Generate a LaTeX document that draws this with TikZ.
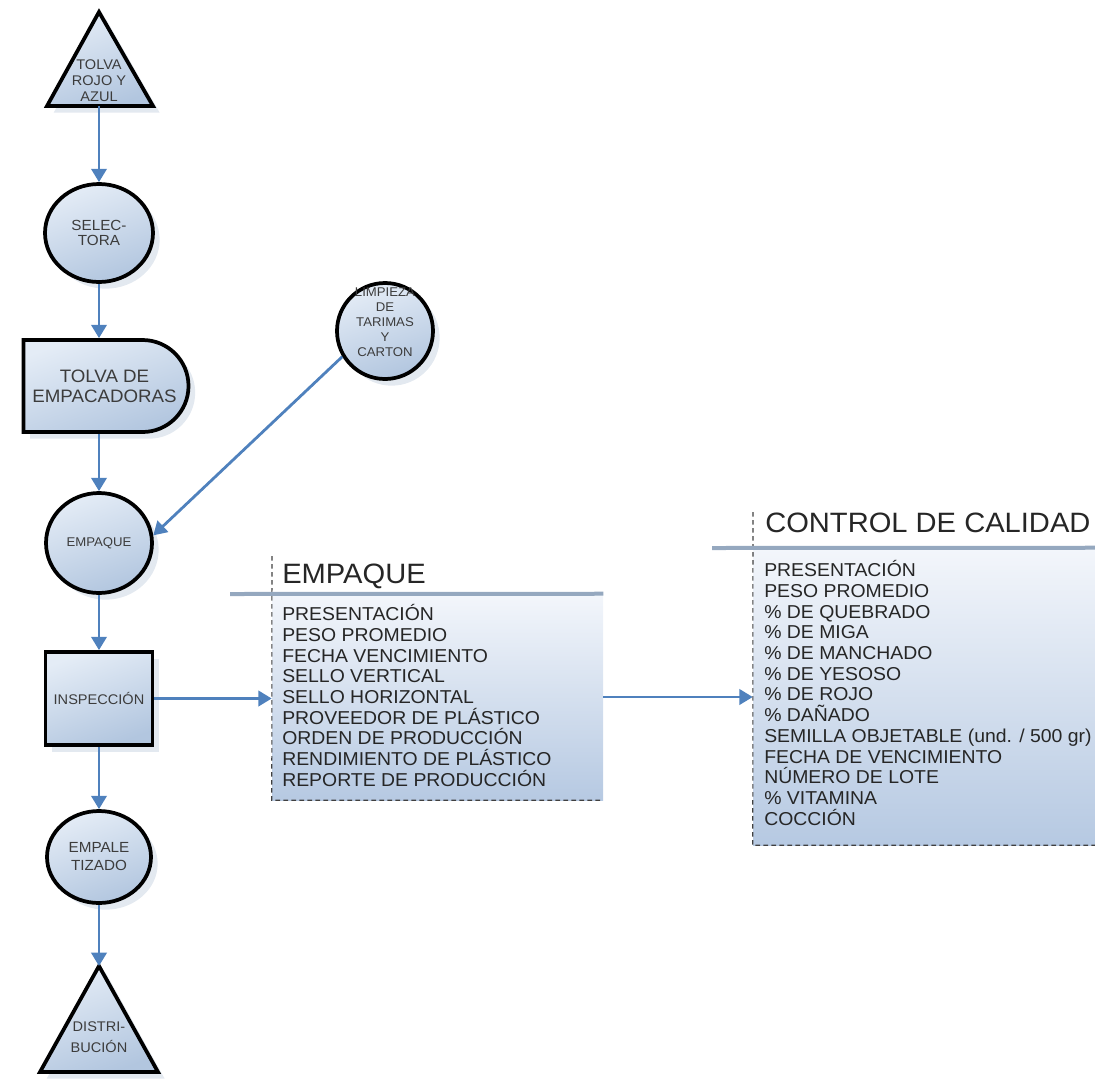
\documentclass[tikz,border=0pt]{standalone}
\usepackage{fontspec}
\setmainfont{Liberation Sans}
\newfontfamily\lsans[FakeStretch=1.04]{Liberation Sans}
\usetikzlibrary{shapes.geometric,shapes.misc,arrows.meta,shadows}
\definecolor{arrowblue}{HTML}{4F81BD}
\definecolor{shapetop}{HTML}{E4ECF6}
\definecolor{shapebot}{HTML}{B2C6DF}
\definecolor{shadowc}{HTML}{DCE3EC}
\definecolor{labelc}{HTML}{3C3C3C}
\definecolor{listc}{HTML}{262626}
\definecolor{headline}{HTML}{95A8BF}
\definecolor{boxtop}{HTML}{F3F6FB}
\definecolor{boxbot}{HTML}{B6C9E2}
\begin{document}
\begin{tikzpicture}[x=0.75pt,y=-0.75pt,
  shp/.style={draw=black, line width=2.8pt, top color=shapetop, bottom color=shapebot,
    shading angle=20, inner sep=0pt, text=labelc, align=center,
    drop shadow={shadow xshift=5pt, shadow yshift=-5pt, fill=shadowc, opacity=0.8, draw=none}},
  lbl/.style={text=labelc, align=center, inner sep=0pt},
  flow/.style={draw=arrowblue, line width=2.1pt, -{Triangle[width=11.5pt,length=10pt]}},
  infobox/.style={draw=none, rectangle, top color=boxtop, bottom color=boxbot, inner sep=0pt},
  dashl/.style={draw=black!75, line width=0.8pt, dash pattern=on 3.5pt off 2.5pt},
  hline/.style={draw=headline, line width=3pt},
  hdr/.style={text=listc, inner sep=0pt, font=\lsans\fontsize{21}{24}\selectfont},
  item/.style={text=listc, inner sep=0pt, font=\lsans\fontsize{14}{15.5}\selectfont}
]
\useasboundingbox (0,0) rectangle (1095,1078);

% --- triangle TOLVA ROJO Y AZUL
\path[shp] (99,12) -- (153,106) -- (47,106) -- cycle;
\node[lbl, font=\lsans\fontsize{10.5}{12}\selectfont] (tolva1) at (99,81) {TOLVA\\ROJO Y\\AZUL};
\coordinate (t1b) at (99,106);

% --- SELECTORA
\node[shp, ellipse, minimum width=81pt, minimum height=73.5pt,
  font=\lsans\fontsize{11}{11.5}\selectfont] (sel) at (99,233) {SELEC-\\TORA};

% --- TOLVA DE EMPACADORAS (delay)
\node[shp, rounded rectangle, rounded rectangle west arc=none,
  minimum width=123.75pt, minimum height=69pt,
  font=\lsans\fontsize{13.5}{15}\selectfont] (tolva2) at (104.5,386) {TOLVA DE\\EMPACADORAS};

% --- EMPAQUE circle
\node[shp, ellipse, minimum width=79.5pt, minimum height=75pt,
  font=\lsans\fontsize{9.5}{11}\selectfont] (emp) at (99,543) {EMPAQUE};

% --- LIMPIEZA circle
\node[shp, ellipse, minimum width=72pt, minimum height=72pt] (lim) at (385,331) {};
\node[lbl, font=\lsans\fontsize{9.5}{11.2}\selectfont] (limt) at (385,322) {LIMPIEZA\\DE\\TARIMAS\\Y\\CARTON};

% --- INSPECCION
\node[shp, rectangle, minimum width=80.25pt, minimum height=69.75pt,
  font=\lsans\fontsize{10.5}{12}\selectfont] (insp) at (99,698.5) {INSPECCIÓN};

% --- EMPALETIZADO
\node[shp, ellipse, minimum width=78pt, minimum height=69pt,
  font=\lsans\fontsize{11}{13.5}\selectfont] (empal) at (99,857) {EMPALE\\TIZADO};

% --- triangle DISTRIBUCION
\path[shp] (99,966) -- (158,1072) -- (40,1072) -- cycle;
\node[lbl, font=\lsans\fontsize{10.5}{16}\selectfont] (dist) at (99,1037) {DISTRI-\\BUCIÓN};
\coordinate (t2a) at (99,966);

% --- EMPAQUE info box
\node[infobox, minimum width=248.25pt, minimum height=154.5pt] (ebox) at (437.5,697) {};
\draw[dashl] (272,556) -- (ebox.south west) -- (ebox.south east);
\draw[hline] (230,594) -- (ebox.north east);
\node[hdr, anchor=base west] (ehd) at (282,583) {EMPAQUE};
\foreach \t [count=\i from 0] in {PRESENTACIÓN, PESO PROMEDIO, FECHA VENCIMIENTO,
  SELLO VERTICAL, SELLO HORIZONTAL, PROVEEDOR DE PLÁSTICO, ORDEN DE PRODUCCIÓN,
  RENDIMIENTO DE PLÁSTICO, REPORTE DE PRODUCCIÓN}
  \node[item, anchor=base west] (e\i) at (282,{614+20.7*\i+6.7}) {\t};

% --- CONTROL DE CALIDAD info box
\node[infobox, minimum width=256.5pt, minimum height=222.75pt] (cbox) at (924,696.5) {};
\draw[dashl] (753,512) -- (cbox.south west) -- (cbox.south east);
\draw[hline] (712,548) -- (cbox.north east);
\node[hdr, anchor=base west] (chd) at (765,532) {CONTROL DE CALIDAD};
\foreach \t [count=\i from 0] in {PRESENTACIÓN, PESO PROMEDIO, \% DE QUEBRADO,
  \% DE MIGA, \% DE MANCHADO, \% DE YESOSO, \% DE ROJO, \% DAÑADO,
  SEMILLA OBJETABLE (und. / 500 gr), FECHA DE VENCIMIENTO, NÚMERO DE LOTE,
  \% VITAMINA, COCCIÓN}
  \node[item, anchor=base west] (c\i) at (764,{570+20.7*\i+6.7}) {\t};

% --- connectors
\draw[flow] (t1b) -- (sel.north);
\draw[flow] (sel.south) -- (sel.south |- tolva2.north);
\draw[flow] (emp.north |- tolva2.south) -- (emp.north);
\draw[flow] (lim.211) -- (emp.8);
\draw[flow] (emp.south) -- (insp.north);
\draw[flow] (insp.east) -- (insp.east -| ebox.west);
\draw[flow] (insp.south) -- (empal.north);
\draw[flow] (empal.south) -- (t2a);
\draw[flow] (ebox.east) -- (ebox.east -| cbox.west);
\end{tikzpicture}
\end{document}
